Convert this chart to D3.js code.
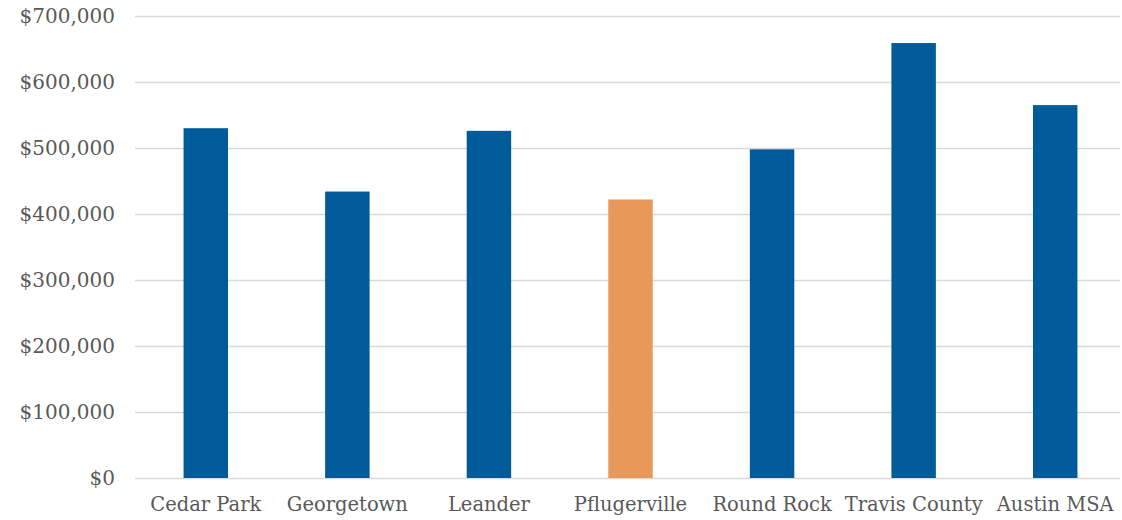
<!DOCTYPE html>
<html>
<head>
<meta charset="utf-8">
<script src="https://cdn.jsdelivr.net/npm/d3@7"></script>
<style>
  html, body { margin: 0; padding: 0; background: #fff; }
  svg { display: block; }
  text { font-family: "DejaVu Serif", "Liberation Serif", serif; fill: #595959; }
</style>
</head>
<body>
<svg id="chart" width="1122" height="520"></svg>
<script>
// Median home value by area
const categories = ["Cedar Park", "Georgetown", "Leander", "Pflugerville", "Round Rock", "Travis County", "Austin MSA"];
const values = [530000, 434000, 526000, 422000, 498000, 659000, 565000];
const highlighted = ["Pflugerville"];
const yTicks = [0, 100000, 200000, 300000, 400000, 500000, 600000, 700000];

const width = 1122, height = 520;
const margin = { top: 16, bottom: 42, left: 135 };
const bandRight = 1126;   // category bands run slightly past the gridlines
const gridRight = 1120;

const svg = d3.select("#chart");

const x = d3.scaleBand()
  .domain(categories)
  .range([margin.left, bandRight])
  .paddingInner(0.686)
  .paddingOuter(0.343);

const y = d3.scaleLinear()
  .domain([0, 700000])
  .range([height - margin.bottom, margin.top]);

const fmt = v => "$" + d3.format(",")(v);

// Horizontal gridlines
svg.append("g")
  .selectAll("line")
  .data(yTicks)
  .join("line")
  .attr("x1", margin.left)
  .attr("x2", gridRight)
  .attr("y1", d => Math.round(y(d)) + 0.5)
  .attr("y2", d => Math.round(y(d)) + 0.5)
  .attr("stroke", "#d9d9d9")
  .attr("stroke-width", 1.3);

// Y axis labels
const yAxis = d3.axisLeft(y).tickValues(yTicks).tickFormat(fmt).tickSize(0).tickPadding(20);
const gy = svg.append("g")
  .attr("transform", `translate(${margin.left},0)`)
  .call(yAxis);
gy.select(".domain").remove();
gy.selectAll("text")
  .style("font-size", "20px")
  .style("font-family", "'DejaVu Serif', serif")
  .attr("fill", "#595959");

// Bars
svg.append("g")
  .selectAll("rect")
  .data(categories.map((c, i) => ({ c, v: values[i] })))
  .join("rect")
  .attr("x", d => x(d.c))
  .attr("width", x.bandwidth())
  .attr("y", d => y(d.v))
  .attr("height", d => y(0) - y(d.v))
  .attr("fill", d => highlighted.includes(d.c) ? "#e8995a" : "#005b9a");

// X axis labels
const xAxis = d3.axisBottom(x).tickSize(0).tickPadding(19);
const gx = svg.append("g")
  .attr("transform", `translate(0,${y(0)})`)
  .call(xAxis);
gx.select(".domain").remove();
gx.selectAll("text")
  .style("font-size", "19.5px")
  .style("font-family", "'DejaVu Serif', serif")
  .attr("fill", "#595959");
</script>
</body>
</html>
